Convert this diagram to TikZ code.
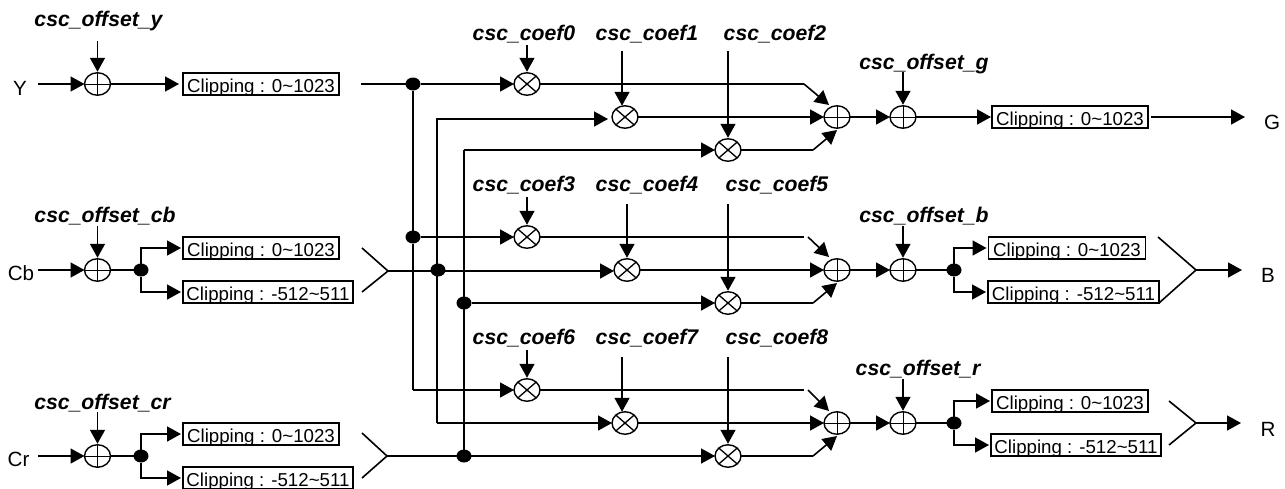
\documentclass[tikz,border=0pt]{standalone}
\usepackage{fontspec}
\setmainfont{Liberation Sans}
\usetikzlibrary{arrows.meta,shapes.geometric}
\tikzset{
  wire/.style={line width=1.6pt,line join=miter},
  arr/.style={wire,-{Triangle[length=14pt,width=15pt]}},
  clipbox/.style={draw,line width=1.6pt,inner sep=0pt,outer sep=0pt,minimum height=22pt,text height=16pt,text depth=0pt,font=\fontsize{18.7}{20}\selectfont},
  clipa/.style={clipbox,minimum width=156pt},
  clipb/.style={clipbox,minimum width=170pt},
  sumnode/.style={ellipse,draw,line width=1.4pt,inner sep=0pt,outer sep=0pt,minimum width=26pt,minimum height=22.5pt,
    path picture={\draw[line width=1pt] (path picture bounding box.north)--(path picture bounding box.south)
      (path picture bounding box.west)--(path picture bounding box.east);}},
  mulnode/.style={ellipse,draw,line width=1.4pt,inner sep=0pt,outer sep=0pt,minimum width=26pt,minimum height=22.5pt,
    path picture={\draw[line width=1.3pt] (path picture bounding box.north west)--(path picture bounding box.south east)
      (path picture bounding box.north east)--(path picture bounding box.south west);}},
  dot/.style={ellipse,fill=black,inner sep=0pt,outer sep=0pt,minimum width=15pt,minimum height=13pt,draw=none},
  ctl/.style={anchor=base,inner sep=0pt,font=\fontsize{21.2}{23}\selectfont\bfseries\itshape},
  sig/.style={anchor=base,inner sep=0pt,font=\fontsize{20.6}{22}\selectfont},
  pin/.style={shorten >=1pt}
}
\begin{document}
\begin{tikzpicture}[x=1pt,y=-1pt]
\useasboundingbox (0,0) rectangle (1285,488);
% input signals
\node[sig] (Y) at (20,95) {Y};
\node[sig] (Cb) at (21,280.7) {Cb};
\node[sig] (Cr) at (18.5,466.7) {Cr};
\node[sig] (G) at (1272,129) {G};
\node[sig] (B) at (1268,282) {B};
\node[sig] (R) at (1268,436) {R};
% labels
\node[ctl] (ly) at (98.5,26) {csc\_offset\_y};
\node[ctl] (lcb) at (105,222.7) {csc\_offset\_cb};
\node[ctl] (lcr) at (102.5,409) {csc\_offset\_cr};
\node[ctl] (lg) at (924,69) {csc\_offset\_g};
\node[ctl] (lb) at (924,222) {csc\_offset\_b};
\node[ctl] (lr) at (918,375.7) {csc\_offset\_r};
\node[ctl] (l0) at (524,40) {csc\_coef0};
\node[ctl] (l1) at (647,40) {csc\_coef1};
\node[ctl] (l2) at (775,40) {csc\_coef2};
\node[ctl] (l3) at (524,191.7) {csc\_coef3};
\node[ctl] (l4) at (647,191.7) {csc\_coef4};
\node[ctl] (l5) at (777,191.7) {csc\_coef5};
\node[ctl] (l6) at (524,344) {csc\_coef6};
\node[ctl] (l7) at (647,344) {csc\_coef7};
\node[ctl] (l8) at (777,344) {csc\_coef8};
% adders
\node[sumnode] (ay) at (97.5,84) {};
\node[sumnode] (acb) at (97.5,270) {};
\node[sumnode] (acr) at (97.5,456) {};
\node[sumnode] (sg) at (837,117) {};
\node[sumnode] (sb) at (837,270) {};
\node[sumnode] (sr) at (837,423) {};
\node[sumnode] (ag) at (903,117) {};
\node[sumnode] (ab) at (903,270) {};
\node[sumnode] (ar) at (903,423) {};
% multipliers
\node[mulnode] (m0) at (527,84) {};
\node[mulnode] (m1) at (625,117) {};
\node[mulnode] (m2) at (728,150) {};
\node[mulnode] (m3) at (527,237) {};
\node[mulnode] (m4) at (627,270) {};
\node[mulnode] (m5) at (728,303) {};
\node[mulnode] (m6) at (527,390) {};
\node[mulnode] (m7) at (625,423) {};
\node[mulnode] (m8) at (728,456) {};
% clipping boxes
\node[clipa] (by) at (261,84) {Clipping : 0\textasciitilde1023};
\node[clipa] (bcb1) at (261,248) {Clipping : 0\textasciitilde1023};
\node[clipb] (bcb2) at (268,292) {Clipping : -512\textasciitilde511};
\node[clipa] (bcr1) at (261,434) {Clipping : 0\textasciitilde1023};
\node[clipb] (bcr2) at (268,478) {Clipping : -512\textasciitilde511};
\node[clipa] (bg) at (1070,117) {Clipping : 0\textasciitilde1023};
\node[clipa,minimum width=157pt] (bb1) at (1067,248) {Clipping : 0\textasciitilde1023};
\node[clipb,minimum width=171pt] (bb2) at (1073.5,292) {Clipping : -512\textasciitilde511};
\node[clipa] (br1) at (1070,401) {Clipping : 0\textasciitilde1023};
\node[clipb] (br2) at (1076,445) {Clipping : -512\textasciitilde511};
% junction dots
\node[dot] (jy) at (413,84) {};
\node[dot] (j3) at (413,237) {};
\node[dot] (j4) at (438,270) {};
\node[dot] (j5) at (464,303) {};
\node[dot] (j8) at (464,456) {};
\node[dot] (jcb) at (141,270) {};
\node[dot] (jcr) at (141,456) {};
\node[dot] (jb) at (954,270) {};
\node[dot] (jr) at (954,423) {};
% free wire ends
\foreach \n/\x/\yy in {
  iy/38/84, icb/38/270, icr/38/456, ty/361/84, tg/1151/117,
  cy/97.5/41, ccb/97.5/226, ccr/97.5/412, cg/903/72, cb/903/226, cr/903/379,
  c0/527/45, c1/622/51, c2/728/51, c3/527/197, c4/627/204, c5/728/204, c6/527/350, c7/622/357, c8/728/357,
  tgg/1245/117, bm/1196/270, rm/1196/423, tbb/1242/270, trr/1241/423,
  mcbt/362/248, mcb/388/271, mcbb/362/292, mcrt/362/433, mcr/387/456, mcrb/362/478,
  mrt/1169/401, mrb/1169/445, mbt/1158/237, mbb/1159/303,
  b0/804/84, b1/813/150, b3a/804/237, b3b/808/237, b5/813/303, b6a/804/390, b6b/808/390, b8/813/456,
  t0/829/105, t2/837/130, t3/829/257, t5/837/283, t6/829/411, t8/837/436,
  v1t/437/119, v1b/437/423, v2t/464/150, v3b/413/390}
  {\coordinate (\n) at (\x,\yy);}
% offset / coefficient inputs
\foreach \a/\b in {cy/ay,ccb/acb,ccr/acr,cg/ag,cb/ab,cr/ar,c0/m0,c3/m3,c6/m6,c2/m2,c4/m4,c5/m5,c8/m8}
  \draw[arr,pin] (\a) -- (\b.north);
\foreach \a/\b in {c1/m1,c7/m7}
  \draw[arr] (\a) -- (\a |- \b.north);
% inputs to adders
\foreach \a/\b in {iy/ay,icb/acb,icr/acr}
  \draw[arr] (\a) -- (\b.west);
\draw[arr,shorten >=4pt] (ay.east) -- (by.west);
\draw[wire] (acb.east) -- (jcb);
\draw[wire] (acr.east) -- (jcr);
\foreach \j/\t/\bb in {jcb/bcb1/bcb2,jcr/bcr1/bcr2,jb/bb1/bb2,jr/br1/br2}{
  \draw[arr,shorten >=2pt] (\j) |- (\t.west);
  \draw[arr,shorten >=2pt] (\j) |- (\bb.west);
}
% merges
\draw[wire] (mcbt) -- (mcb) -- (mcbb);
\draw[wire] (mcrt) -- (mcr) -- (mcrb);
\draw[wire] (mbt) -- (bm) -- (mbb);
\draw[wire] (mrt) -- (rm) -- (mrb);
% Y bus
\draw[wire] (ty) -- (jy);
\draw[arr] (jy) -- (m0.west);
\draw[wire] (jy) -- (j3);
\draw[arr] (j3) -- (m3.west);
\draw[wire] (j3) -- (v3b);
\draw[arr] (v3b) -- (m6.west);
% Cb bus
\draw[arr] (mcb) -- (m4.west |- mcb);
\draw[arr,shorten >=4pt] (v1b) -- (v1t) -- (m1.west |- v1t);
\draw[arr] (v1b) -- (m7.west);
% Cr bus
\draw[arr] (mcr) -- (m8.west);
\draw[wire] (j8) -- (v2t);
\draw[arr] (v2t) -- (m2.west);
\draw[arr] (j5) -- (m5.west);
% multipliers to sums
\draw[wire] (m0.east) -- (b0);
\draw[arr] (b0) -- (t0);
\draw[arr] (m1.east) -- (sg.west);
\draw[wire] (m2.east) -- (b1);
\draw[arr] (b1) -- (t2);
\draw[wire] (m3.east) -- (b3a);
\draw[arr] (b3b) -- (t3);
\draw[arr] (m4.east) -- (sb.west);
\draw[wire] (m5.east) -- (b5);
\draw[arr] (b5) -- (t5);
\draw[wire] (m6.east) -- (b6a);
\draw[arr] (b6b) -- (t6);
\draw[arr] (m7.east) -- (sr.west);
\draw[wire] (m8.east) -- (b8);
\draw[arr] (b8) -- (t8);
% sums to offsets
\draw[arr] (sg.east) -- (ag.west);
\draw[arr] (sb.east) -- (ab.west);
\draw[arr] (sr.east) -- (ar.west);
\draw[arr,shorten >=1pt] (ag.east) -- (bg.west);
\draw[wire] (ab.east) -- (jb);
\draw[wire] (ar.east) -- (jr);
% outputs
\draw[arr] (tg) -- (tgg);
\draw[arr] (bm) -- (tbb);
\draw[arr] (rm) -- (trr);
\end{tikzpicture}
\end{document}
